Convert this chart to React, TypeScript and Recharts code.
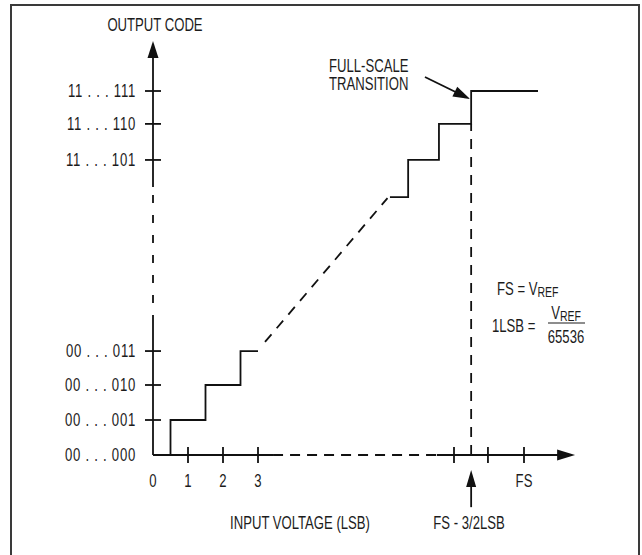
import React from 'react';
import { ComposedChart, Line, XAxis, YAxis, ReferenceLine, ReferenceDot } from 'recharts';

// output codes on the vertical axis, positions in LSB
const codeLabels = ['00 . . . 000', '00 . . . 001', '00 . . . 010', '00 . . . 011', '11 . . . 101', '11 . . . 110', '11 . . . 111'];
const codeValues = [0, 1, 2, 2.97, 8.43, 9.46, 10.4];
const codeTickValues = [1, 2, 2.97, 8.43, 9.46, 10.4];

// input voltage axis, in LSB
const inputLabels = ['0', '1', '2', '3', 'FS'];
const inputValues = [0, 1, 2, 3, 10.6];
const inputTickValues = [1, 2, 3, 8.6, 9.57, 10.6];

// transfer function
const lowerStepX = [0, 0.5, 1.5, 2.5, 3];
const lowerStepY = [0, 1, 2, 2.97, 2.97];
const upperStepX = [6.77, 7.29, 8.17, 9.09, 11];
const upperStepY = [7.37, 8.43, 9.46, 10.4, 10.4];
const gapX = [3.2, 6.7];
const gapY = [3.23, 7.34];
const transitionX = 9.09; // FS - 3/2LSB

// where the axes are broken
const yAxisBreak = [3.77, 7.66];
const yAxisEnd = 11.83;
const xAxisBreak = [3.43, 8.11];
const xAxisEnd = 12.06;

const toPoints = (xs: number[], ys: number[]) => xs.map((x, i) => ({ x, y: ys[i] }));

const lowerSteps = toPoints(lowerStepX, lowerStepY);
const upperSteps = toPoints(upperStepX, upperStepY);
const gapLine = toPoints(gapX, gapY);

const INK = '#111';
const TEXT = '#1c1c1c';
const FONT = '"Liberation Sans", Arial, sans-serif';
const SW = 1.8;
const NARROW = 0.75;
const FS = 17.5;

// condensed text: Liberation Sans squeezed to a narrow face
const Txt = ({ x, y, anchor = 'start', size = FS, spacing = 0, children }: any) => (
  <text
    transform={`translate(${x},${y}) scale(${NARROW},1)`}
    textAnchor={anchor}
    dominantBaseline="central"
    fontSize={size}
    letterSpacing={spacing}
    fill={TEXT}
    fontFamily={FONT}
  >
    {children}
  </text>
);

const arrowShape = (len: number, half: number) => (p: any) => {
  const { x1, y1, x2, y2 } = p;
  const dx = x2 - x1;
  const dy = y2 - y1;
  const d = Math.hypot(dx, dy) || 1;
  const ux = dx / d;
  const uy = dy / d;
  const bx = x2 - ux * len;
  const by = y2 - uy * len;
  const pts = `${x2},${y2} ${bx - uy * half},${by + ux * half} ${bx + uy * half},${by - ux * half}`;
  return (
    <g>
      <line x1={x1} y1={y1} x2={bx + ux * 2} y2={by + uy * 2} stroke={INK} strokeWidth={SW} />
      <polygon points={pts} fill={INK} />
    </g>
  );
};

const codeLabelShape = (label: string) => (p: any) => (
  <Txt x={p.cx - 17} y={p.cy} anchor="end" spacing={1}>
    {label}
  </Txt>
);

const tickShape = (p: any) => (
  <line x1={p.cx - 8} y1={p.cy} x2={p.cx + 8} y2={p.cy} stroke={INK} strokeWidth={SW} />
);

const xTickShape = (p: any) => (
  <line x1={p.cx} y1={p.cy - 8} x2={p.cx} y2={p.cy + 8} stroke={INK} strokeWidth={SW} />
);

const inputLabelShape = (label: string) => (p: any) => (
  <Txt x={p.cx} y={p.cy + 26} anchor="middle">
    {label}
  </Txt>
);

export default function App() {
  return (
    <div style={{ position: 'absolute', left: 0, top: 0, width: 642, height: 555, overflow: 'hidden', background: '#fff' }}>
      <div
        style={{
          position: 'absolute',
          left: 10,
          top: 4,
          width: 626,
          height: 600,
          borderLeft: '2px solid #3a3a3a',
          borderTop: '2px solid #3a3a3a',
          borderRight: '2px solid #3a3a3a',
        }}
      />
      <div style={{ position: 'absolute', left: 0, top: 0 }}>
        <ComposedChart width={642} height={555} margin={{ top: 14, right: 13, bottom: 9, left: 13 }}>
          <XAxis type="number" dataKey="x" domain={[-4, 13.6]} hide allowDataOverflow />
          <YAxis type="number" dataKey="y" domain={[-2.6, 12.6]} hide allowDataOverflow />

          {/* vertical axis */}
          <ReferenceLine segment={[{ x: 0, y: 0 }, { x: 0, y: yAxisBreak[0] }]} stroke={INK} strokeWidth={SW} />
          <ReferenceLine segment={[{ x: 0, y: yAxisBreak[0] }, { x: 0, y: yAxisBreak[1] }]} stroke={INK} strokeWidth={SW} strokeDasharray="8 12" />
          <ReferenceLine segment={[{ x: 0, y: yAxisBreak[1] }, { x: 0, y: yAxisEnd }]} shape={arrowShape(17, 5.5)} />

          {/* horizontal axis */}
          <ReferenceLine segment={[{ x: 0, y: 0 }, { x: xAxisBreak[0], y: 0 }]} stroke={INK} strokeWidth={SW} />
          <ReferenceLine segment={[{ x: xAxisBreak[0], y: 0 }, { x: xAxisBreak[1], y: 0 }]} stroke={INK} strokeWidth={SW} strokeDasharray="10 7" />
          <ReferenceLine segment={[{ x: xAxisBreak[1], y: 0 }, { x: xAxisEnd, y: 0 }]} shape={arrowShape(18, 5.5)} />

          {/* FS - 3/2LSB marker */}
          <ReferenceLine segment={[{ x: transitionX, y: 0 }, { x: transitionX, y: upperStepY[2] }]} stroke={INK} strokeWidth={SW} strokeDasharray="10 8" />
          <ReferenceLine segment={[{ x: transitionX, y: -1.49 }, { x: transitionX, y: -0.43 }]} shape={arrowShape(17, 5)} />
          <ReferenceLine segment={[{ x: 7.77, y: 10.8 }, { x: 9.06, y: 10.17 }]} shape={arrowShape(17, 5.5)} />

          {codeTickValues.map((v) => (
            <ReferenceDot key={'ct' + v} x={0} y={v} r={0} shape={tickShape} />
          ))}
          {codeLabels.map((c, i) => (
            <ReferenceDot key={c} x={0} y={codeValues[i]} r={0} shape={codeLabelShape(c)} />
          ))}
          {inputTickValues.map((v) => (
            <ReferenceDot key={'it' + v} x={v} y={0} r={0} shape={xTickShape} />
          ))}
          {inputLabels.map((l, i) => (
            <ReferenceDot key={l} x={inputValues[i]} y={0} r={0} shape={inputLabelShape(l)} />
          ))}

          <Line data={lowerSteps} dataKey="y" type="stepAfter" stroke={INK} strokeWidth={SW} dot={false} activeDot={false} isAnimationActive={false} />
          <Line data={upperSteps} dataKey="y" type="stepAfter" stroke={INK} strokeWidth={SW} dot={false} activeDot={false} isAnimationActive={false} />
          <Line data={gapLine} dataKey="y" type="linear" stroke={INK} strokeWidth={SW} strokeDasharray="10 8" dot={false} activeDot={false} isAnimationActive={false} />
        </ComposedChart>
      </div>
      <svg width={642} height={555} style={{ position: 'absolute', left: 0, top: 0, pointerEvents: 'none' }}>
        <Txt x={155} y={25} anchor="middle">OUTPUT CODE</Txt>
        <Txt x={329} y={66}>FULL-SCALE</Txt>
        <Txt x={329} y={84}>TRANSITION</Txt>
        <Txt x={300} y={523} anchor="middle">INPUT VOLTAGE (LSB)</Txt>
        <Txt x={469} y={523} anchor="middle">FS - 3/2LSB</Txt>
        <Txt x={497} y={289}>
          FS = V<tspan fontSize={14} dy={3}>REF</tspan>
        </Txt>
        <Txt x={492} y={326}>1LSB =</Txt>
        <Txt x={566} y={313} anchor="middle">
          V<tspan fontSize={14} dy={3}>REF</tspan>
        </Txt>
        <line x1={548} y1={323} x2={585} y2={323} stroke={TEXT} strokeWidth={1.2} />
        <Txt x={566} y={337} anchor="middle">65536</Txt>
      </svg>
    </div>
  );
}
